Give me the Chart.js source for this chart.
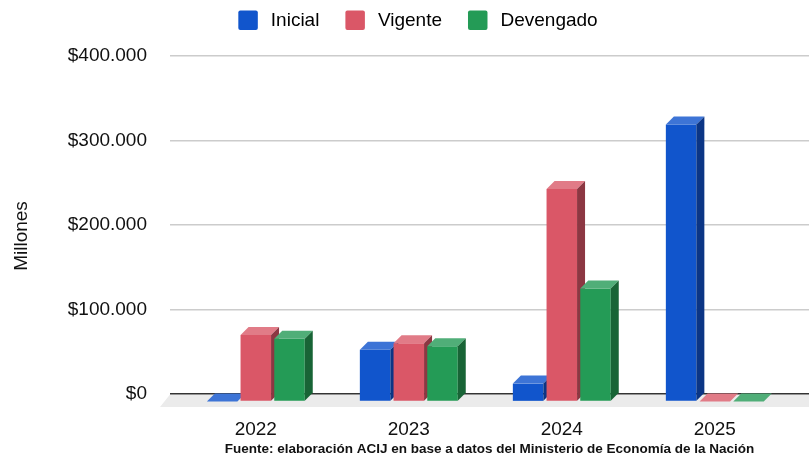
<!DOCTYPE html>
<html><head><meta charset="utf-8">
<style>html,body{margin:0;padding:0;background:#fff}#w{width:809px;height:456px}</style>
<script src="https://cdn.jsdelivr.net/npm/chart.js@4"></script>
</head><body><div id="w"><canvas id="c"></canvas></div>
<script>
const categories = [2022, 2023, 2024, 2025];
const inicial = [0, 61500, 21300, 328000];
const vigente = [78700, 69000, 251700, 0];
const devengado = [74500, 65400, 133700, 0];
const seriesNames = ['Inicial', 'Vigente', 'Devengado'];
const tickValues = [0, 100000, 200000, 300000, 400000];
const footer = 'Fuente: elaboración ACIJ en base a datos del Ministerio de Economía de la Nación';
const yTitle = 'Millones';

const palette = [
  {front:'#1155cc', side:'#0b3585', top:'#3d74d6'},
  {front:'#da5767', side:'#8c3742', top:'#e17b87'},
  {front:'#249b56', side:'#186436', top:'#50ae78'}
];
const DEPTH = 8, DROP = 7.6, SQ = 19.5, GAP = 3.5;
const FONT = 19;

const plot3d = {
  id:'plot3d',
  beforeDraw(chart){
    const {ctx, chartArea:a} = chart;
    ctx.save();
    ctx.fillStyle = '#ebebeb';
    ctx.beginPath();
    ctx.moveTo(a.left, a.bottom+0.5);
    ctx.lineTo(a.right, a.bottom+0.5);
    ctx.lineTo(a.right, a.bottom+13);
    ctx.lineTo(a.left-10, a.bottom+13);
    ctx.closePath(); ctx.fill();
    ctx.restore();
    const l = chart.legend;
    const dx = 418 - (l.left + l.right)/2;
    const dy = (11 - 26) - l.top;
    l.left += dx; l.right += dx; l.top += dy; l.bottom += dy;
    l.legendHitBoxes.forEach(b => { b.left += dx; b.top += dy; });
  },
  // Each series is drawn left to right, so that a bar's front covers the side of the bar before it.
  beforeDatasetDraw(){ return false; },
  afterDatasetsDraw(chart){
    const ctx = chart.ctx;
    ctx.save();
    ctx.translate(0, DROP);
    chart.data.datasets.forEach((d, i) => {
      const meta = chart.getDatasetMeta(i), c = palette[i];
      meta.controller.draw();
      meta.data.forEach(bar => {
        const l = bar.x - bar.width/2, r = bar.x + bar.width/2, t = bar.y, b = bar.base;
        ctx.fillStyle = c.top;
        ctx.beginPath();
        ctx.moveTo(l,t); ctx.lineTo(l+DEPTH,t-DEPTH); ctx.lineTo(r+DEPTH,t-DEPTH); ctx.lineTo(r,t);
        ctx.closePath(); ctx.fill();
        if (b - t > 0.5) {
          ctx.fillStyle = c.side;
          ctx.beginPath();
          ctx.moveTo(r,t); ctx.lineTo(r+DEPTH,t-DEPTH); ctx.lineTo(r+DEPTH,b-DEPTH); ctx.lineTo(r,b);
          ctx.closePath(); ctx.fill();
        }
      });
    });
    ctx.restore();
  },
  afterDraw(chart){
    const ctx = chart.ctx;
    ctx.save();
    chart.legend.legendHitBoxes.forEach((b,i) => {
      ctx.fillStyle = palette[i].front;
      ctx.beginPath();
      ctx.roundRect(b.left, b.top - 0.5, SQ, SQ, 2);
      ctx.fill();
    });
    ctx.translate(21.5, 236);
    ctx.rotate(-Math.PI/2);
    ctx.font = FONT + 'px "Liberation Sans"';
    ctx.fillStyle = '#111111';
    ctx.textAlign = 'center';
    ctx.textBaseline = 'middle';
    ctx.fillText(yTitle, 0, 0);
    ctx.restore();
  }
};

const mk = (i, values) => ({
  label: seriesNames[i], data: values,
  backgroundColor: palette[i].front, borderWidth: 0,
  barPercentage: 30.5/33.7, categoryPercentage: 101.1/153,
  clip: false
});

new Chart(document.getElementById('c'), {
  type: 'bar',
  data: { labels: categories, datasets: [mk(0,inicial), mk(1,vigente), mk(2,devengado)] },
  plugins: [plot3d],
  options: {
    responsive: true, maintainAspectRatio: false, animation: false,
    layout: { padding: { top: 1 } },
    plugins: {
      tooltip: { enabled: false },
      legend: {
        position: 'top',
        labels: {
          boxWidth: SQ + GAP, boxHeight: 19, padding: 26,
          color: '#222222',
          font: { family: 'Liberation Sans', size: FONT },
          generateLabels: chart => chart.data.datasets.map((d,i) => ({
            text: d.label, fillStyle: 'rgba(0,0,0,0)', strokeStyle: 'rgba(0,0,0,0)', lineWidth: 0, datasetIndex: i
          }))
        }
      }
    },
    scales: {
      x: {
        type: 'linear', offset: false,
        min: 2022 - 85.8/153, max: 2022 + 553.2/153,
        grid: { display: false }, border: { display: false },
        afterBuildTicks: s => { s.ticks = categories.map(v => ({ value: v })); },
        ticks: {
          autoSkip: false, maxRotation: 0, padding: 16, color: '#111111',
          font: { family: 'Liberation Sans', size: FONT },
          callback: v => String(v)
        },
        title: {
          display: true, text: footer, color: '#111111',
          font: { family: 'Liberation Sans', size: 13.5, weight: 'bold' },
          padding: { top: 0, bottom: -1.5 }
        },
        afterFit: s => { s.height = 62; }
      },
      y: {
        min: 0, max: 400000,
        afterBuildTicks: s => { s.ticks = tickValues.map(v => ({ value: v })); },
        grid: {
          drawTicks: false, lineWidth: 1.5,
          color: c => c.tick && c.tick.value === 0 ? '#333333' : '#cccccc'
        },
        border: { display: false },
        ticks: {
          padding: 23, color: '#111111',
          font: { family: 'Liberation Sans', size: FONT },
          callback: v => '$' + String(v).replace(/\B(?=(\d{3})+$)/g, '.')
        },
        afterFit: s => { s.width = 170; }
      }
    }
  }
});
</script></body></html>
